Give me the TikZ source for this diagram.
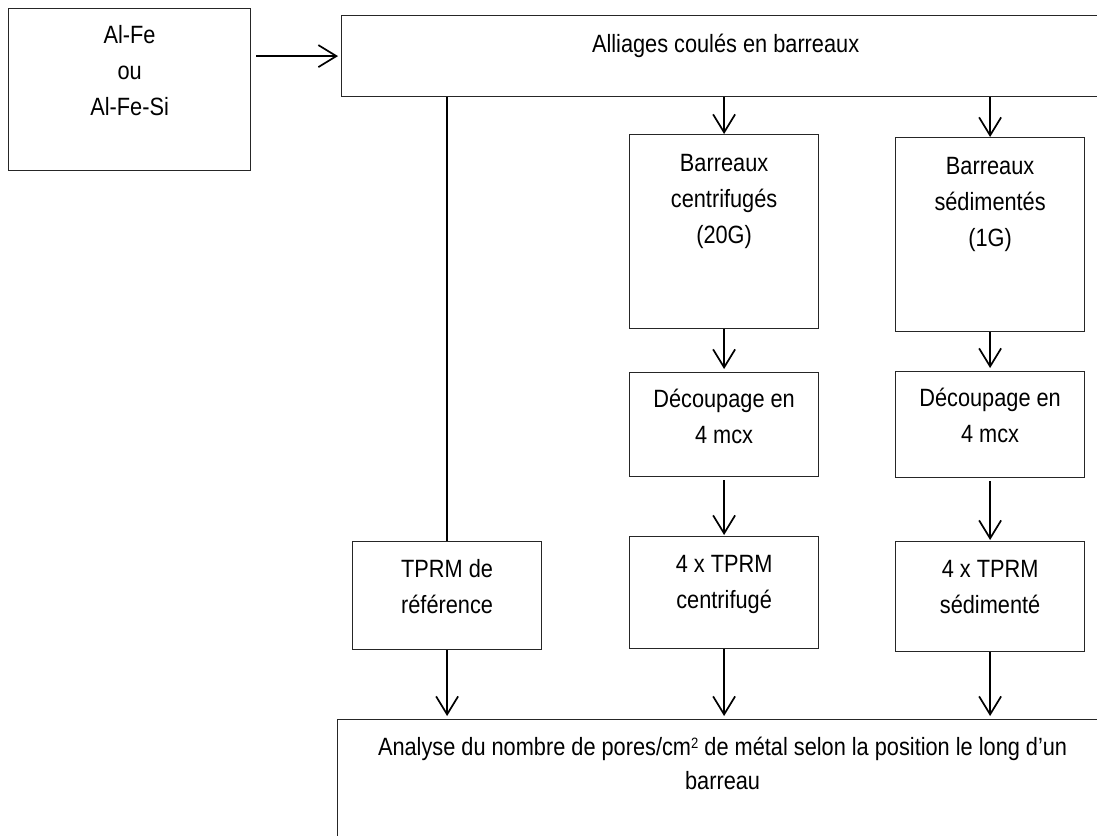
\documentclass[tikz,border=0pt]{standalone}
\usepackage{fontspec}
\setmainfont{Liberation Sans}[FakeStretch=0.87]
\usetikzlibrary{positioning}
\usetikzlibrary{arrows.meta}
\tikzset{x=1pt, y=-1pt,
    box/.style={
        draw=black!85,
        line width=1.2pt,
        rectangle,
        inner sep=0pt,
        anchor=north west},
    txt/.style={
        align=center,
        inner sep=0pt,
        font=\fontsize{25}{36}\selectfont},
    every edge/.style={
        draw,
        line width=1.7pt,
        -{Straight Barb[length=18pt,width=22pt]}}}

\begin{document}
\begin{tikzpicture}
        \useasboundingbox (0,0) rectangle (1097,835);

        \node[box, minimum width=242, minimum height=162] (src) at (8,8) {};
        \node[box, minimum width=768, minimum height=81] (cast) at (341,15) {};
        \node[box, minimum width=189, minimum height=194] (cent) at (629,134) {};
        \node[box, minimum width=189, minimum height=194] (sedi) at (895,137) {};
        \node[box, minimum width=189, minimum height=104] (cutc) at (629,372) {};
        \node[box, minimum width=189, minimum height=106] (cuts) at (895,371) {};
        \node[box, minimum width=189, minimum height=108] (ref) at (352,541) {};
        \node[box, minimum width=189, minimum height=112] (tprmc) at (629,536) {};
        \node[box, minimum width=189, minimum height=110] (tprms) at (895,541) {};
        \node[box, minimum width=770, minimum height=180] (anal) at (337,719) {};

        \node[txt, below=17pt of src.north] (srct) {Al-Fe\\ou\\Al-Fe-Si};
        \node[txt, below=19pt of cast.north] (castt) {Alliages coulés en barreaux};
        \node[txt, below=20pt of cent.north] (centt) {Barreaux\\centrifugés\\(20G)};
        \node[txt, below=20pt of sedi.north] (sedit) {Barreaux\\sédimentés\\(1G)};
        \node[txt, below=17pt of cutc.north] (cutct) {Découpage en\\4 mcx};
        \node[txt, below=17pt of cuts.north] (cutst) {Découpage en\\4 mcx};
        \node[txt, below=18pt of ref.north] (reft) {TPRM de\\référence};
        \node[txt, below=19pt of tprmc.north] (tprmct) {4 x TPRM\\centrifugé};
        \node[txt, below=19pt of tprms.north] (tprmst) {4 x TPRM\\sédimenté};
        \node[txt, below=18pt of anal.north, font=\fontsize{25}{34}\selectfont] (analt)
            {Analyse du nombre de pores/cm{\fontsize{15}{15}\selectfont\raisebox{7pt}{2}} de métal selon la position le long d’un\\barreau};

        \draw ([xshift=5pt]src.east |- cast.west) edge ([xshift=-3pt]cast.west);
        \draw (ref.north |- cast.south) edge[-] (ref.north);
        \draw (cent.north |- cast.south) edge (cent.north);
        \draw (sedi.north |- cast.south) edge (sedi.north);
        \draw (cent.south) edge ([yshift=3pt]cutc.north);
        \draw (sedi.south) edge ([yshift=3pt]cuts.north);
        \draw ([yshift=-3pt]cutc.south) edge ([yshift=1pt]tprmc.north);
        \draw ([yshift=-3pt]cuts.south) edge ([yshift=1pt]tprms.north);
        \draw (ref.south) edge ([yshift=3pt]ref.south |- anal.north);
        \draw (tprmc.south) edge ([yshift=3pt]tprmc.south |- anal.north);
        \draw (tprms.south) edge ([yshift=3pt]tprms.south |- anal.north);
    \end{tikzpicture}
\end{document}
